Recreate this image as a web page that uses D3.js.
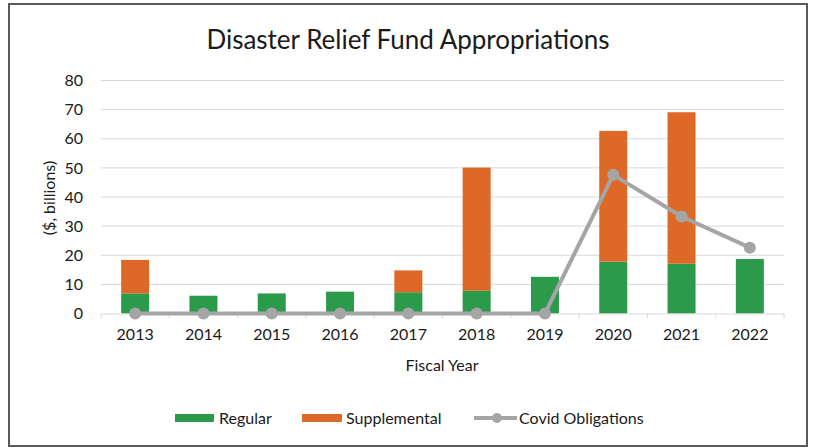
<!DOCTYPE html>
<html>
<head>
<meta charset="utf-8">
<script src="https://cdn.jsdelivr.net/npm/d3@7"></script>
<style>
  html, body { margin: 0; padding: 0; background: #fff; }
  svg { display: block; font-family: "Lato", "Open Sans", sans-serif; }
</style>
</head>
<body>
<svg id="chart" width="815" height="448"></svg>
<script>
// Fiscal years and appropriations ($ billions)
const years = ["2013", "2014", "2015", "2016", "2017", "2018", "2019", "2020", "2021", "2022"];
const regular = [6.9, 6.1, 6.9, 7.5, 7.3, 7.8, 12.6, 17.8, 17.1, 18.7];
const supplemental = [11.5, 0, 0, 0, 7.5, 42.3, 0, 44.9, 52.0, 0];
const covidObligations = [0, 0, 0, 0, 0, 0, 0, 47.6, 33.3, 22.6];
const yTicks = [0, 10, 20, 30, 40, 50, 60, 70, 80];

const colors = { regular: "#2b9a4b", supplemental: "#de6827", covid: "#a5a5a5" };
const textColor = "#1a1a1a";

const svg = d3.select("#chart");

// outer frame
svg.append("rect")
  .attr("x", 9).attr("y", 4).attr("width", 798).attr("height", 442)
  .attr("fill", "#fff").attr("stroke", "#595959").attr("stroke-width", 2);

const x = d3.scaleBand().domain(years).range([101, 784]).padding(0);
const y = d3.scaleLinear().domain([0, 80]).range([313.5, 80.5]);
const barW = x.bandwidth() * 0.41;

// title
svg.append("text")
  .attr("x", 408).attr("y", 49)
  .attr("text-anchor", "middle")
  .attr("font-size", 26).attr("fill", textColor)
  .text("Disaster Relief Fund Appropriations");

// gridlines
svg.append("g").selectAll("line").data(yTicks.filter(d => d > 0)).join("line")
  .attr("x1", 101).attr("x2", 784)
  .attr("y1", d => y(d)).attr("y2", d => y(d))
  .attr("stroke", "#d9d9d9").attr("stroke-width", 1);

// y axis labels
const yAxis = d3.axisLeft(y).tickValues(yTicks).tickSize(0).tickPadding(0);
const yG = svg.append("g").attr("transform", "translate(83,0)").call(yAxis);
yG.select(".domain").remove();
yG.selectAll("text").attr("font-size", 16).attr("fill", textColor).attr("font-family", "Lato, sans-serif");

// y axis title
svg.append("text")
  .attr("transform", "translate(55,198) rotate(-90)")
  .attr("text-anchor", "middle")
  .attr("font-size", 16).attr("fill", textColor)
  .text("($, billions)");

// stacked bars
const bars = svg.append("g");
bars.selectAll("rect.reg").data(years).join("rect")
  .attr("class", "reg")
  .attr("x", d => x(d) + (x.bandwidth() - barW) / 2)
  .attr("width", barW)
  .attr("y", (d, i) => y(regular[i]))
  .attr("height", (d, i) => y(0) - y(regular[i]))
  .attr("fill", colors.regular);
bars.selectAll("rect.sup").data(years).join("rect")
  .attr("class", "sup")
  .attr("x", d => x(d) + (x.bandwidth() - barW) / 2)
  .attr("width", barW)
  .attr("y", (d, i) => y(regular[i] + supplemental[i]))
  .attr("height", (d, i) => y(regular[i]) - y(regular[i] + supplemental[i]))
  .attr("fill", colors.supplemental);

// x axis
const xAxis = d3.axisBottom(x).tickSize(0).tickPadding(15);
const xG = svg.append("g").attr("transform", `translate(0,${y(0)})`).call(xAxis);
xG.select(".domain").attr("stroke", "#d9d9d9").attr("stroke-width", 1.2);
xG.selectAll("text").attr("font-size", 16).attr("fill", textColor).attr("font-family", "Lato, sans-serif");
// category boundary ticks
xG.append("g").selectAll("line").data(years.concat(["end"])).join("line")
  .attr("x1", (d, i) => 101 + i * x.step()).attr("x2", (d, i) => 101 + i * x.step())
  .attr("y1", 0).attr("y2", 5)
  .attr("stroke", "#d9d9d9").attr("stroke-width", 1);

// x axis title
svg.append("text")
  .attr("x", 442).attr("y", 371)
  .attr("text-anchor", "middle")
  .attr("font-size", 16).attr("fill", textColor)
  .text("Fiscal Year");

// covid obligations line
const line = d3.line()
  .x((d, i) => x(years[i]) + x.bandwidth() / 2)
  .y(d => y(d));
svg.append("path")
  .datum(covidObligations)
  .attr("d", line)
  .attr("fill", "none")
  .attr("stroke", colors.covid)
  .attr("stroke-width", 4)
  .attr("stroke-linejoin", "round");
svg.append("g").selectAll("circle").data(covidObligations).join("circle")
  .attr("cx", (d, i) => x(years[i]) + x.bandwidth() / 2)
  .attr("cy", d => y(d))
  .attr("r", 6)
  .attr("fill", colors.covid);

// legend
const legend = svg.append("g").attr("font-size", 16).attr("fill", textColor);
legend.append("rect").attr("x", 175).attr("y", 414).attr("width", 39).attr("height", 8).attr("fill", colors.regular);
legend.append("text").attr("x", 219).attr("y", 423.5).text("Regular");
legend.append("rect").attr("x", 302).attr("y", 414).attr("width", 40).attr("height", 8).attr("fill", colors.supplemental);
legend.append("text").attr("x", 346).attr("y", 423.5).text("Supplemental");
legend.append("line").attr("x1", 474).attr("x2", 517).attr("y1", 418).attr("y2", 418)
  .attr("stroke", colors.covid).attr("stroke-width", 4);
legend.append("circle").attr("cx", 497).attr("cy", 418).attr("r", 5).attr("fill", colors.covid);
legend.append("text").attr("x", 519).attr("y", 423.5).text("Covid Obligations");
</script>
</body>
</html>
